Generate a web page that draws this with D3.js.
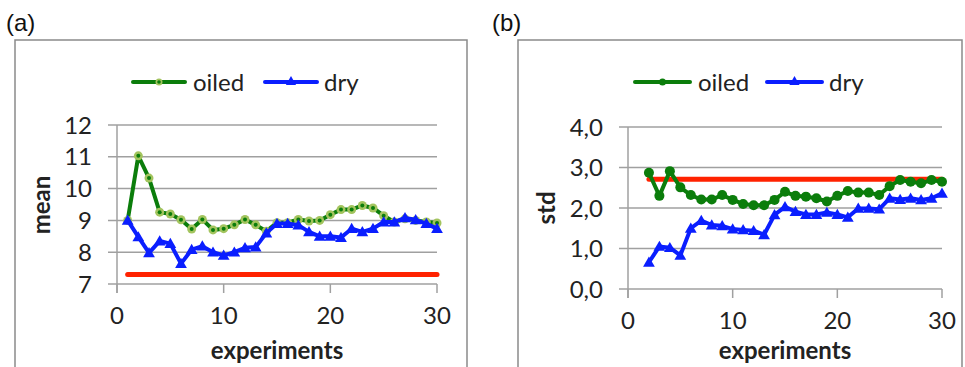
<!DOCTYPE html>
<html>
<head>
<meta charset="utf-8">
<script src="https://cdn.jsdelivr.net/npm/d3@7"></script>
<style>
  body { margin: 0; background: #fff; }
  svg text { font-family: Lato, "Open Sans", sans-serif; fill: #222; }
</style>
</head>
<body>
<div class="canvas"></div>
<script>
// data
const experiments = [1, 2, 3, 4, 5, 6, 7, 8, 9, 10, 11, 12, 13, 14, 15, 16, 17, 18, 19, 20, 21, 22, 23, 24, 25, 26, 27, 28, 29, 30];
const meanOiled = [9.0, 11.03, 10.33, 9.26, 9.2, 9.02, 8.73, 9.03, 8.7, 8.74, 8.86, 9.03, 8.86, 8.66, 8.93, 8.93, 9.03, 8.98, 9.0, 9.18, 9.34, 9.34, 9.47, 9.39, 9.15, 8.95, 9.05, 9.0, 8.95, 8.92];
const meanDry = [9.0, 8.48, 7.98, 8.35, 8.27, 7.64, 8.08, 8.19, 8.0, 7.9, 8.0, 8.14, 8.16, 8.6, 8.9, 8.9, 8.85, 8.64, 8.5, 8.5, 8.46, 8.74, 8.64, 8.74, 8.95, 8.95, 9.08, 9.02, 8.9, 8.74];
const stdExperiments = experiments.slice(1);
const stdOiled = [2.87, 2.3, 2.91, 2.51, 2.32, 2.21, 2.21, 2.32, 2.2, 2.1, 2.07, 2.07, 2.2, 2.4, 2.3, 2.28, 2.24, 2.16, 2.3, 2.42, 2.38, 2.38, 2.32, 2.54, 2.69, 2.65, 2.61, 2.69, 2.65];
const stdDry = [0.66, 1.05, 1.02, 0.83, 1.5, 1.69, 1.58, 1.56, 1.48, 1.46, 1.44, 1.34, 1.83, 2.03, 1.91, 1.84, 1.84, 1.89, 1.84, 1.77, 1.99, 1.99, 1.97, 2.24, 2.21, 2.24, 2.2, 2.24, 2.36];
const meanRef = [7.3, 7.3];
const meanRefX = [1, 30];
const stdRef = [2.71, 2.71];
const stdRefX = [2, 30];
const meanTicks = [7, 8, 9, 10, 11, 12];
const stdTicks = [0, 1, 2, 3, 4];
const xTicks = [0, 10, 20, 30];

const GREEN = "#0b7d0b";
const LIGHTGREEN = "#a3c45e";
const BLUE = "#0a1eff";
const RED = "#ff2200";
const GRID = "#a0a0a0";

const svg = d3.select(".canvas").append("svg")
  .attr("width", 965)
  .attr("height", 367);

const panels = [
  {
    tag: "(a)", tagX: 6, frame: [15, 40, 467, 372],
    xRange: [117, 437], yDomain: [7, 12], yRange: [284, 125],
    yTicks: meanTicks, fmt: d3.format("d"), labelX: 92,
    yTitle: "mean", yTitleX: 50, yTitleY: 205,
    legend: { y: 82, green: [133, 185], blue: [265, 317] },
    oiled: experiments.map((e, i) => [e, meanOiled[i]]),
    dry: experiments.map((e, i) => [e, meanDry[i]]),
    ref: meanRefX.map((e, i) => [e, meanRef[i]]),
    ringed: true
  },
  {
    tag: "(b)", tagX: 492, frame: [518, 40, 962, 372],
    xRange: [628, 942], yDomain: [0, 4], yRange: [289, 127],
    yTicks: stdTicks, fmt: (d) => d3.format(".1f")(d).replace(".", ","), labelX: 603,
    yTitle: "std", yTitleX: 555, yTitleY: 208,
    legend: { y: 82, green: [635, 690], blue: [767, 822] },
    oiled: stdExperiments.map((e, i) => [e, stdOiled[i]]),
    dry: stdExperiments.map((e, i) => [e, stdDry[i]]),
    ref: stdRefX.map((e, i) => [e, stdRef[i]]),
    ringed: false
  }
];

const tri = d3.symbol().type(d3.symbolTriangle).size(60);
const triSmall = d3.symbol().type(d3.symbolTriangle).size(45);

panels.forEach((p) => {
  const g = svg.append("g");
  const x = d3.scaleLinear().domain([0, 30]).range(p.xRange);
  const y = d3.scaleLinear().domain(p.yDomain).range(p.yRange);
  const [x0, x1] = p.xRange;
  const yBottom = p.yRange[0];

  //frame
  g.append("rect")
    .attr("x", p.frame[0]).attr("y", p.frame[1])
    .attr("width", p.frame[2] - p.frame[0])
    .attr("height", p.frame[3] - p.frame[1])
    .attr("fill", "none")
    .attr("stroke", "#8a8a8a")
    .attr("stroke-width", 1.5);

  svg.append("text")
    .attr("x", p.tagX).attr("y", 31)
    .style("font-family", "'Liberation Sans', Arial, sans-serif")
    .style("font-size", "24px")
    .style("fill", "#111")
    .text(p.tag);

  //gridlines
  g.selectAll(".grid").data(p.yTicks).enter().append("line")
    .attr("x1", x0 - 9).attr("x2", x1)
    .attr("y1", (d) => y(d)).attr("y2", (d) => y(d))
    .attr("stroke", GRID).attr("stroke-width", 1.5);

  //y axis line
  g.append("line")
    .attr("x1", x0).attr("x2", x0)
    .attr("y1", p.yRange[1]).attr("y2", yBottom + 9)
    .attr("stroke", GRID).attr("stroke-width", 1.5);

  //x ticks
  g.selectAll(".xtick").data(xTicks).enter().append("line")
    .attr("x1", (d) => x(d)).attr("x2", (d) => x(d))
    .attr("y1", yBottom).attr("y2", yBottom + 9)
    .attr("stroke", GRID).attr("stroke-width", 1.5);

  g.selectAll(".xlab").data(xTicks).enter().append("text")
    .attr("x", (d) => x(d))
    .attr("y", yBottom + 40)
    .attr("text-anchor", "middle")
    .style("font-size", "24px")
    .text((d) => d);

  g.selectAll(".ylab").data(p.yTicks).enter().append("text")
    .attr("x", p.labelX)
    .attr("y", (d) => y(d))
    .attr("dy", "0.36em")
    .attr("text-anchor", "end")
    .style("font-size", "24px")
    .text(p.fmt);

  g.append("text")
    .attr("x", (x0 + x1) / 2).attr("y", 359)
    .attr("text-anchor", "middle")
    .style("font-size", "24px")
    .style("font-weight", "bold")
    .text("experiments");

  g.append("text")
    .attr("transform", `translate(${p.yTitleX},${p.yTitleY}) rotate(-90)`)
    .attr("text-anchor", "middle")
    .style("font-size", "24px")
    .style("font-weight", "bold")
    .text(p.yTitle);

  const line = d3.line().x((d) => x(d[0])).y((d) => y(d[1]));

  //reference line
  g.append("path").datum(p.ref)
    .attr("d", line)
    .attr("fill", "none")
    .attr("stroke", RED)
    .attr("stroke-width", 5)
    .attr("stroke-linecap", "round");

  //oiled
  g.append("path").datum(p.oiled)
    .attr("d", line)
    .attr("fill", "none")
    .attr("stroke", GREEN)
    .attr("stroke-width", 4)
    .attr("stroke-linejoin", "round");

  if (p.ringed) {
    g.selectAll(".oring").data(p.oiled).enter().append("circle")
      .attr("cx", (d) => x(d[0])).attr("cy", (d) => y(d[1]))
      .attr("r", 4.5).attr("fill", LIGHTGREEN);
    g.selectAll(".odot").data(p.oiled).enter().append("circle")
      .attr("cx", (d) => x(d[0])).attr("cy", (d) => y(d[1]))
      .attr("r", 2).attr("fill", GREEN);
  } else {
    g.selectAll(".odot").data(p.oiled).enter().append("circle")
      .attr("cx", (d) => x(d[0])).attr("cy", (d) => y(d[1]))
      .attr("r", 5).attr("fill", GREEN);
  }

  //dry
  g.append("path").datum(p.dry)
    .attr("d", line)
    .attr("fill", "none")
    .attr("stroke", BLUE)
    .attr("stroke-width", 4)
    .attr("stroke-linejoin", "round");

  g.selectAll(".dtri").data(p.dry).enter().append("path")
    .attr("d", tri)
    .attr("transform", (d) => `translate(${x(d[0])},${y(d[1]) + 1})`)
    .attr("fill", BLUE);

  //legend
  const lg = g.append("g");
  const ly = p.legend.y;
  lg.append("line")
    .attr("x1", p.legend.green[0]).attr("x2", p.legend.green[1])
    .attr("y1", ly).attr("y2", ly)
    .attr("stroke", GREEN).attr("stroke-width", 4)
    .attr("stroke-linecap", "round");
  const gm = (p.legend.green[0] + p.legend.green[1]) / 2;
  if (p.ringed) {
    lg.append("circle").attr("cx", gm).attr("cy", ly).attr("r", 3.5).attr("fill", LIGHTGREEN);
    lg.append("circle").attr("cx", gm).attr("cy", ly).attr("r", 1.8).attr("fill", GREEN);
  } else {
    lg.append("circle").attr("cx", gm).attr("cy", ly).attr("r", 3.5).attr("fill", GREEN);
  }
  lg.append("text")
    .attr("x", p.legend.green[1] + 8).attr("y", ly)
    .attr("dy", "0.36em")
    .style("font-size", "24px")
    .text("oiled");

  lg.append("line")
    .attr("x1", p.legend.blue[0]).attr("x2", p.legend.blue[1])
    .attr("y1", ly).attr("y2", ly)
    .attr("stroke", BLUE).attr("stroke-width", 4)
    .attr("stroke-linecap", "round");
  const bm = (p.legend.blue[0] + p.legend.blue[1]) / 2;
  lg.append("path")
    .attr("d", triSmall)
    .attr("transform", `translate(${bm},${ly})`)
    .attr("fill", BLUE);
  lg.append("text")
    .attr("x", p.legend.blue[1] + 7).attr("y", ly)
    .attr("dy", "0.36em")
    .style("font-size", "24px")
    .text("dry");
});
</script>
</body>
</html>
